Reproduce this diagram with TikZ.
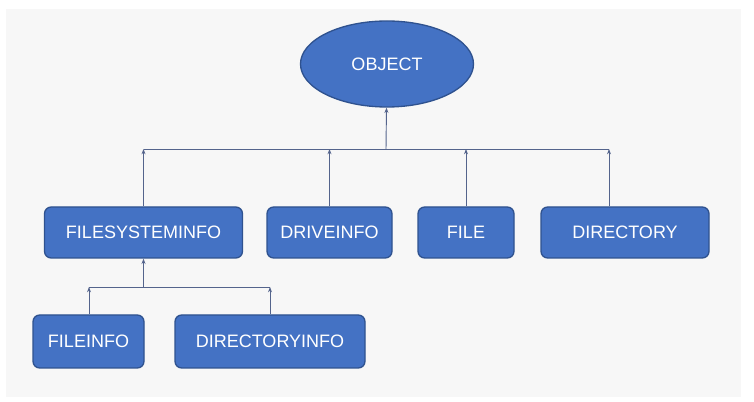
\documentclass[tikz,border=0pt]{standalone}
\usepackage{fontspec}
\setmainfont{Liberation Sans}
\usepackage{tikz}
\usepackage{xcolor}
\usetikzlibrary{shapes}
\usetikzlibrary{arrows.meta}
\definecolor{boxblue}{RGB}{68,114,196}
\definecolor{boxedge}{RGB}{47,82,143}
\definecolor{linkgray}{RGB}{84,100,140}
\definecolor{panel}{RGB}{247,247,247}
\tikzset{cls/.style={draw=boxedge,fill=boxblue,line width=1pt,text=white,
   rounded corners=5pt,minimum height=38.25pt,inner sep=0pt,
   font=\fontsize{13.5}{16}\selectfont},
 root/.style={cls,ellipse,rounded corners=0pt,minimum width=129.75pt,minimum height=64.5pt},
 link/.style={draw=linkgray,line width=0.7pt},
 up/.style={link,-{Stealth[length=4pt,width=3pt]}},
 }

\begin{document}
\begin{tikzpicture}[x=0.75pt,y=-0.75pt]
        \useasboundingbox (0,0) rectangle (754,402);
        \fill[white] (0,0) rectangle (754,402);
        \fill[panel] (6,9) rectangle (741,397);
        % classes
        \node[root] (obj) at (387,64) {OBJECT};
        \node[cls,minimum width=148.5pt] (fsi) at (143.5,232.5) {FILESYSTEMINFO};
        \node[cls,minimum width=93.75pt] (drv) at (329.5,232.5) {DRIVEINFO};
        \node[cls,minimum width=72pt] (file) at (466,232.5) {FILE};
        \node[cls,minimum width=126pt] (dir) at (625,232.5) {DIRECTORY};
        \node[cls,minimum width=83.25pt,minimum height=39.75pt] (finfo) at (88.5,341.5) {FILEINFO};
        \node[cls,minimum width=142.5pt,minimum height=39.75pt] (dinfo) at (270,341.5) {DIRECTORYINFO};
        % bus under OBJECT
        \coordinate (bus) at (386,149);
        \coordinate (busl) at (143.5,149);
        \coordinate (busr) at (609,149);
        \draw[up] (bus) -- (obj);
        \draw[link] (busl) -- (busr);
        \draw[up] (fsi) -- (busl);
        \draw[up] (drv) -- (drv |- bus);
        \draw[up] (file) -- (file |- bus);
        \draw[up] (busr |- dir.north) -- (busr);
        % bus under FILESYSTEMINFO
        \coordinate (sub) at (143.5,287);
        \coordinate (subl) at (89,287);
        \coordinate (subr) at (270,287);
        \draw[up] (sub) -- (fsi);
        \draw[link] (subl) -- (subr);
        \draw[up] (subl |- finfo.north) -- (subl);
        \draw[up] (dinfo) -- (subr);
    \end{tikzpicture}
\end{document}
